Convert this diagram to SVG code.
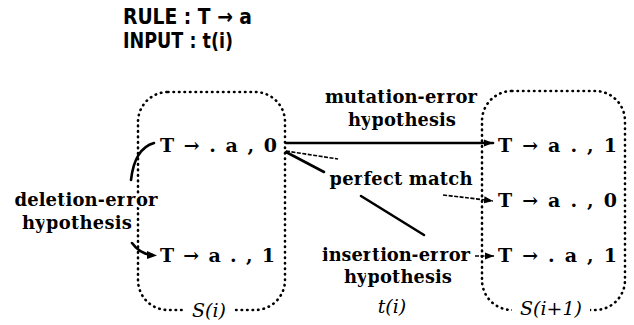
<svg xmlns="http://www.w3.org/2000/svg" width="634" height="325" viewBox="0 0 634 325">
<style>
.box{fill:none;stroke:#000;stroke-width:2.6;stroke-dasharray:0.5 5;stroke-linecap:round}
.t{font-family:"DejaVu Serif","Liberation Serif",serif;font-weight:bold;font-size:19px;fill:#000}
.lab{font-family:"DejaVu Serif","Liberation Serif",serif;font-weight:bold;font-size:18px;fill:#000;text-anchor:middle;stroke:#fff;stroke-width:4;paint-order:stroke;stroke-linejoin:round}
.it{font-family:"DejaVu Serif","Liberation Serif",serif;font-style:italic;font-size:19px;fill:#000;text-anchor:middle}
.hd{font-family:"DejaVu Sans Condensed","Liberation Sans",sans-serif;font-weight:bold;font-size:21px;fill:#000}
.thick{fill:none;stroke:#000;stroke-width:2.6;stroke-linecap:round}
.thin{fill:none;stroke:#000;stroke-width:1.6;stroke-dasharray:4 1.5}
</style>
<defs>
<marker id="ah" markerUnits="userSpaceOnUse" markerWidth="10" markerHeight="8" refX="9" refY="4" orient="auto">
<path d="M0,0.5 L9,4 L0,7.5 Z" fill="#000"/>
</marker>
</defs>
<g id="header">
<text class="hd" x="123" y="24" textLength="129" lengthAdjust="spacingAndGlyphs">RULE : T → a</text>
<text class="hd" x="123" y="48" textLength="110" lengthAdjust="spacingAndGlyphs">INPUT : t(i)</text>
</g>
<g id="S_i">
<rect class="box" x="138" y="92" width="147" height="218" rx="30"/>
<rect x="185" y="300" width="48" height="22" fill="#fff"/>
<text class="it" x="209" y="317">S(i)</text>
<text class="t" x="160" y="152" textLength="117">T → . a , 0</text>
<text class="t" x="160" y="262" textLength="115">T → a . , 1</text>
</g>
<g id="S_i1">
<rect class="box" x="482" y="91" width="143" height="219" rx="30"/>
<rect x="512" y="300" width="78" height="22" fill="#fff"/>
<text class="it" x="551" y="315">S(i+1)</text>
<text class="t" x="498" y="152" textLength="119">T → a . , 1</text>
<text class="t" x="498" y="207" textLength="119">T → a . , 0</text>
<text class="t" x="498" y="262" textLength="119">T → . a , 1</text>
</g>
<g id="ti">
<text class="it" x="392" y="313">t(i)</text>
</g>
<g id="connectors">
<path class="thick" d="M286,143 L493,143" marker-end="url(#ah)"/>
<path class="thin" d="M286,151 L338,159"/>
<path class="thin" d="M443,195 Q470,198 493,201" marker-end="url(#ah)"/>
<path class="thick" d="M286,152 L324,172"/>
<path class="thick" d="M361,196 L424,235"/>
<path class="thin" d="M475,256 L494,256" marker-end="url(#ah)"/>
<path class="thick" d="M131,180 C133,162 140,147 154,143"/>
<path class="thick" d="M132,243 Q140,254 152,255"/>
<path d="M147,251 L157,255.5 L147,259 Z" fill="#000"/>
</g>
<g id="labels">
<text class="lab" x="401" y="103" textLength="152">mutation-error</text>
<text class="lab" x="402" y="126" textLength="108">hypothesis</text>
<text class="lab" x="401" y="185" textLength="143">perfect match</text>
<text class="lab" x="396" y="261" textLength="148">insertion-error</text>
<text class="lab" x="398" y="283" textLength="108">hypothesis</text>
<text class="lab" x="86" y="206" textLength="143">deletion-error</text>
<text class="lab" x="77" y="229" textLength="110">hypothesis</text>
</g>
</svg>
